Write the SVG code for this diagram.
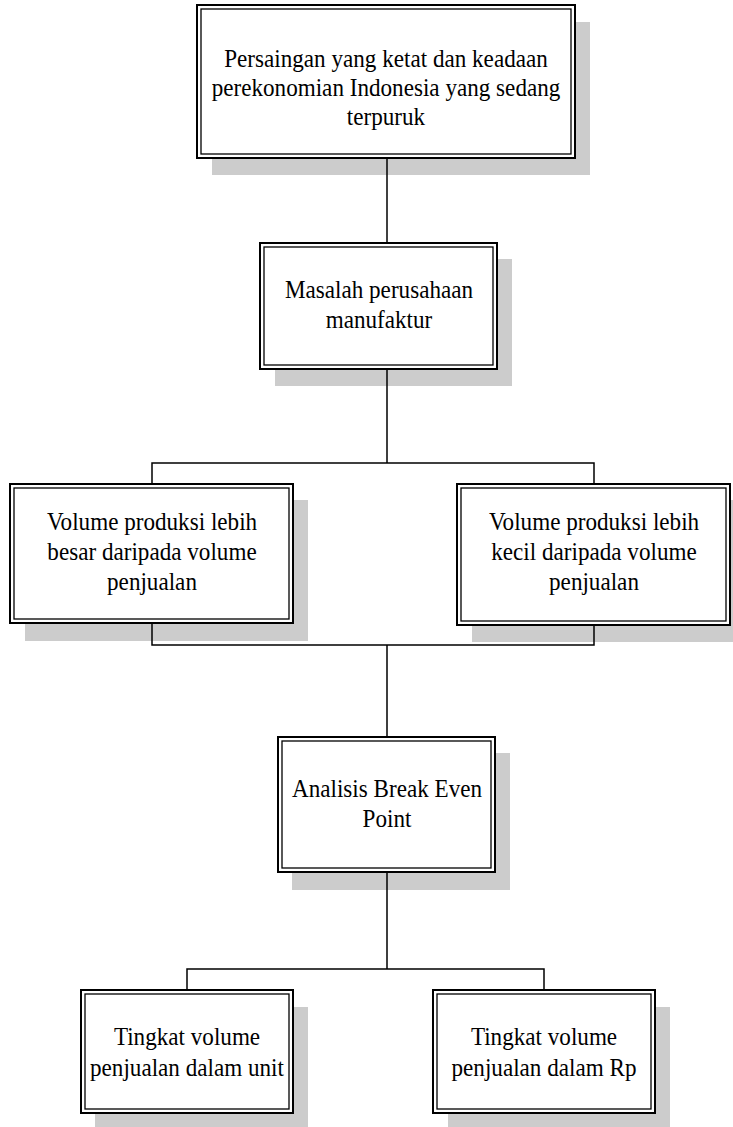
<svg xmlns="http://www.w3.org/2000/svg" width="733" height="1127" viewBox="0 0 733 1127">
<style>
.sh{fill:#cccccc;stroke:none}
.outer{fill:#ffffff;stroke:#000000;stroke-width:2}
.inner{fill:none;stroke:#000000;stroke-width:1.3}
.t{font-family:"Liberation Serif","Times New Roman",serif;font-size:25px;fill:#000000;text-anchor:middle}
.c{fill:none;stroke:#000000;stroke-width:1.5}
</style>
<rect width="733" height="1127" fill="#ffffff"/>
<g id="n1">
<rect class="sh" x="212" y="22" width="378" height="153"/>
<rect class="outer" x="197" y="5" width="378" height="153"/>
<rect class="inner" x="201" y="9" width="370" height="145"/>
<g transform="translate(386,0) scale(0.925,1)">
<text class="t" x="0" y="67">Persaingan yang ketat dan keadaan</text>
<text class="t" x="0" y="96">perekonomian Indonesia yang sedang</text>
<text class="t" x="0" y="125">terpuruk</text>
</g>
</g>
<g id="n2">
<rect class="sh" x="275" y="259" width="237" height="127"/>
<rect class="outer" x="260" y="243" width="237" height="126"/>
<rect class="inner" x="264" y="247" width="229" height="118"/>
<g transform="translate(379,0) scale(0.925,1)">
<text class="t" x="0" y="298">Masalah perusahaan</text>
<text class="t" x="0" y="328">manufaktur</text>
</g>
</g>
<g id="n3">
<rect class="sh" x="25" y="500" width="283" height="141"/>
<rect class="outer" x="10" y="484" width="283" height="139"/>
<rect class="inner" x="14" y="488" width="275" height="131"/>
<g transform="translate(152,0) scale(0.925,1)">
<text class="t" x="0" y="530">Volume produksi lebih</text>
<text class="t" x="0" y="560">besar daripada volume</text>
<text class="t" x="0" y="590">penjualan</text>
</g>
</g>
<g id="n4">
<rect class="sh" x="472" y="500" width="273" height="142"/>
<rect class="outer" x="457" y="484" width="273" height="141"/>
<rect class="inner" x="461" y="488" width="265" height="133"/>
<g transform="translate(594,0) scale(0.925,1)">
<text class="t" x="0" y="530">Volume produksi lebih</text>
<text class="t" x="0" y="560">kecil daripada volume</text>
<text class="t" x="0" y="590">penjualan</text>
</g>
</g>
<g id="n5">
<rect class="sh" x="292" y="753" width="218" height="137"/>
<rect class="outer" x="278" y="737" width="217" height="135"/>
<rect class="inner" x="282" y="741" width="209" height="127"/>
<g transform="translate(387,0) scale(0.925,1)">
<text class="t" x="0" y="797">Analisis Break Even</text>
<text class="t" x="0" y="827">Point</text>
</g>
</g>
<g id="n6">
<rect class="sh" x="95" y="1007" width="213" height="125"/>
<rect class="outer" x="81" y="990" width="212" height="123"/>
<rect class="inner" x="85" y="994" width="204" height="115"/>
<g transform="translate(187,0) scale(0.925,1)">
<text class="t" x="0" y="1045">Tingkat volume</text>
<text class="t" x="0" y="1076">penjualan dalam unit</text>
</g>
</g>
<g id="n7">
<rect class="sh" x="448" y="1007" width="222" height="125"/>
<rect class="outer" x="433" y="990" width="222" height="123"/>
<rect class="inner" x="437" y="994" width="214" height="115"/>
<g transform="translate(544,0) scale(0.925,1)">
<text class="t" x="0" y="1045">Tingkat volume</text>
<text class="t" x="0" y="1076">penjualan dalam Rp</text>
</g>
</g>
<g id="connectors">
<path class="c" d="M387,159 V242"/>
<path class="c" d="M387,370 V463 M152,484 V463 H594 V484"/>
<path class="c" d="M152,624 V645 H594 V626 M387,645 V736"/>
<path class="c" d="M387,873 V969 M187,990 V969 H544 V990"/>
</g>
</svg>
